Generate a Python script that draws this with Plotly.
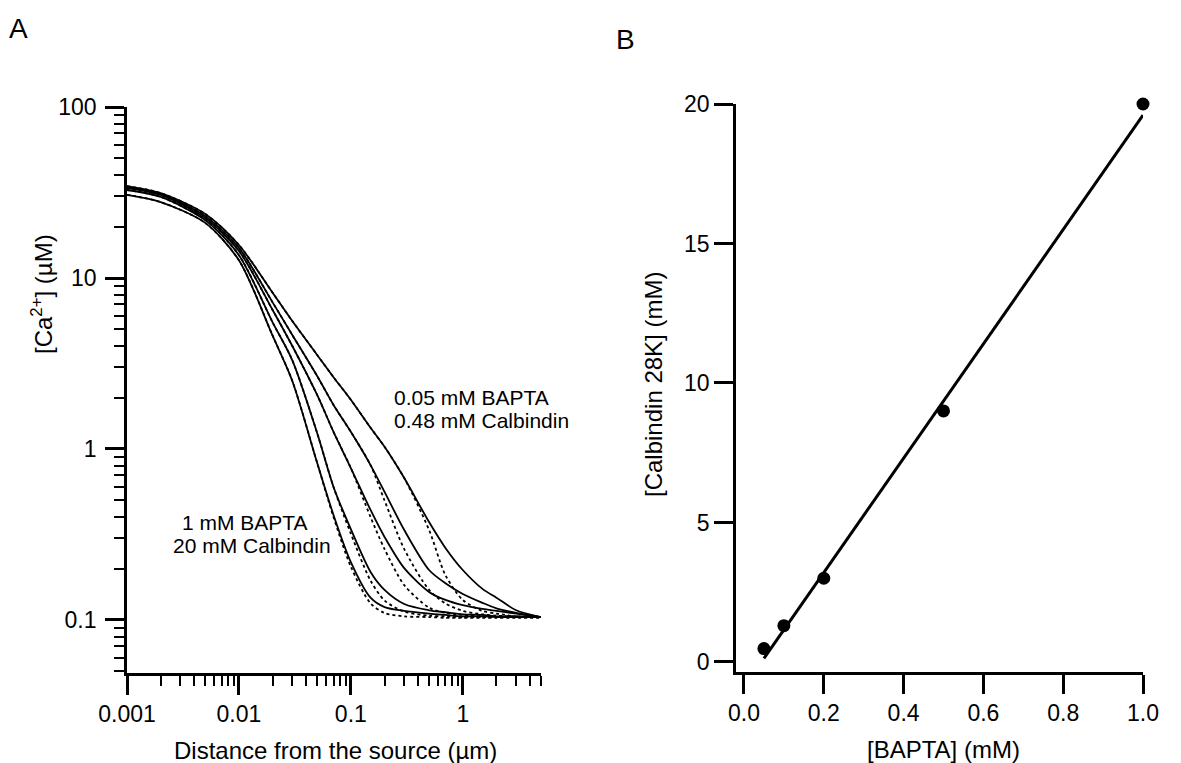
import plotly.graph_objects as go

# ---------------- Panel A data ----------------
dist_um = [0.001, 0.002, 0.005, 0.01, 0.02, 0.03, 0.05, 0.07, 0.1, 0.15, 0.2,
           0.3, 0.5, 0.7, 1, 1.5, 2, 3, 5]

# solid lines: BAPTA
ca_bapta_005 = [34.5, 31.4, 23.7, 15.6, 8.2, 5.6, 3.55, 2.63, 1.94, 1.33, 1.03,
                0.676, 0.374, 0.264, 0.196, 0.152, 0.135, 0.114, 0.104]
ca_bapta_01 = [34.0, 31.0, 23.0, 15.0, 7.2, 4.64, 2.67, 1.81, 1.26, 0.805, 0.561,
               0.336, 0.196, 0.164, 0.142, 0.126, 0.117, 0.110, 0.104]
ca_bapta_02 = [33.6, 30.6, 22.4, 14.4, 6.5, 4.0, 2.07, 1.26, 0.774, 0.440, 0.306,
               0.201, 0.146, 0.131, 0.122, 0.116, 0.113, 0.109, 0.104]
ca_bapta_05 = [32.7, 29.8, 21.8, 13.6, 5.5, 3.3, 1.24, 0.6, 0.34, 0.191, 0.150,
               0.124, 0.114, 0.111, 0.108, 0.107, 0.105, 0.105, 0.104]
ca_bapta_1 = [30.6, 27.8, 21.0, 12.7, 4.6, 2.5, 0.83, 0.411, 0.218, 0.135, 0.119,
              0.113, 0.109, 0.107, 0.105, 0.105, 0.104, 0.104, 0.104]

# dotted lines: calbindin
ca_calb_048 = [34.5, 31.4, 23.7, 15.6, 8.2, 5.6, 3.55, 2.63, 1.94, 1.33, 1.03,
               0.676, 0.336, 0.183, 0.131, 0.113, 0.109, 0.105, 0.104]
ca_calb_13 = [34.0, 31.0, 23.0, 15.0, 7.2, 4.64, 2.67, 1.81, 1.26, 0.805, 0.50,
              0.26, 0.15, 0.125, 0.113, 0.108, 0.106, 0.105, 0.104]
ca_calb_3 = [33.6, 30.6, 22.4, 14.4, 6.5, 4.0, 2.07, 1.26, 0.774, 0.40, 0.26,
             0.16, 0.118, 0.11, 0.107, 0.105, 0.104, 0.104, 0.104]
ca_calb_9 = [32.7, 29.8, 21.8, 13.6, 5.5, 3.3, 1.24, 0.6, 0.32, 0.17, 0.13,
             0.112, 0.106, 0.105, 0.104, 0.104, 0.104, 0.104, 0.104]
ca_calb_20 = [30.6, 27.8, 21.0, 12.7, 4.6, 2.5, 0.83, 0.40, 0.205, 0.125, 0.11,
              0.105, 0.104, 0.103, 0.103, 0.103, 0.103, 0.103, 0.103]

solid_series = [ca_bapta_005, ca_bapta_01, ca_bapta_02, ca_bapta_05, ca_bapta_1]
dotted_series = [ca_calb_048, ca_calb_13, ca_calb_3, ca_calb_9, ca_calb_20]

# ---------------- Panel B data ----------------
bapta_mM = [0.05, 0.1, 0.2, 0.5, 1.0]
calbindin_mM = [0.48, 1.3, 3.0, 9.0, 20.0]
fit_x = [0.05, 1.0]
fit_y = [0.13, 19.6]

W, H = 1181, 763
FONT = "Liberation Sans, Arial, Helvetica, sans-serif"


def px(x):
    return x / W


def py(y):
    return 1 - y / H


fig = go.Figure()

for ys in dotted_series:
    fig.add_trace(go.Scatter(x=dist_um, y=ys, mode="lines", xaxis="x", yaxis="y",
                             line=dict(color="black", width=1.8, dash="dot", shape="spline", smoothing=0.8),
                             showlegend=False, hoverinfo="skip"))
for ys in solid_series:
    fig.add_trace(go.Scatter(x=dist_um, y=ys, mode="lines", xaxis="x", yaxis="y",
                             line=dict(color="black", width=1.8, shape="spline", smoothing=0.8),
                             showlegend=False, hoverinfo="skip"))

fig.add_trace(go.Scatter(x=fit_x, y=fit_y, mode="lines", xaxis="x2", yaxis="y2",
                         line=dict(color="black", width=3), showlegend=False))
fig.add_trace(go.Scatter(x=bapta_mM, y=calbindin_mM, mode="markers", xaxis="x2", yaxis="y2",
                         marker=dict(color="black", size=13), showlegend=False, cliponaxis=False))

axis_common = dict(showline=True, linecolor="black", linewidth=2.7, ticks="outside",
                   tickcolor="black", tickwidth=2.7, ticklen=19, showgrid=False,
                   zeroline=False, mirror=False, automargin=False,
                   tickfont=dict(family=FONT, size=23, color="black"))

fig.update_layout(
    width=W, height=H,
    margin=dict(l=0, r=0, t=0, b=0),
    paper_bgcolor="white", plot_bgcolor="white",
    font=dict(family=FONT, size=23, color="black"),
    xaxis=dict(axis_common, type="log", domain=[px(127), px(541)], anchor="y",
               range=[-3, 0.699], tickvals=[0.001, 0.01, 0.1, 1],
               ticktext=["0.001", "0.01", "0.1", "1"],
               minor=dict(ticks="outside", ticklen=10, tickwidth=2.2, tickcolor="black",
                          dtick="D1", showgrid=False)),
    yaxis=dict(axis_common, type="log", domain=[py(673), py(107)], anchor="x",
               range=[-1.31, 2.0], tickvals=[0.1, 1, 10, 100],
               ticktext=["0.1", "1", "10", "100"], ticklabelstandoff=4,
               minor=dict(ticks="outside", ticklen=10, tickwidth=2.2, tickcolor="black",
                          dtick="D1", showgrid=False)),
    xaxis2=dict(axis_common, domain=[px(736), px(1143)], anchor="y2",
                range=[-0.02, 1.0], tickvals=[0, 0.2, 0.4, 0.6, 0.8, 1.0],
                ticktext=["0.0", "0.2", "0.4", "0.6", "0.8", "1.0"]),
    yaxis2=dict(axis_common, domain=[py(672), py(104)], anchor="x2",
                range=[-0.36, 20], tickvals=[0, 5, 10, 15, 20]),
)

annots = [
    dict(x=px(19), y=py(28), text="A", size=28, xanchor="center"),
    dict(x=px(625), y=py(40), text="B", size=28, xanchor="center"),
    dict(x=px(335), y=py(750), text="Distance from the source (µm)", size=24, xanchor="center"),
    dict(x=px(943), y=py(749), text="[BAPTA] (mM)", size=24, xanchor="center"),
    dict(x=px(392), y=py(397), text="0.05 mM BAPTA", size=21, xanchor="left"),
    dict(x=px(392), y=py(420), text="0.48 mM Calbindin", size=21, xanchor="left"),
    dict(x=px(245), y=py(522), text="1 mM BAPTA", size=21, xanchor="center"),
    dict(x=px(252), y=py(545), text="20 mM Calbindin", size=21, xanchor="center"),
]
for a in annots:
    fig.add_annotation(x=a["x"], y=a["y"], xref="paper", yref="paper", text=a["text"],
                       showarrow=False, xanchor=a["xanchor"], yanchor="middle",
                       font=dict(family=FONT, size=a["size"], color="black"))

fig.add_annotation(x=px(42), y=py(294), xref="paper", yref="paper",
                   text="[Ca<sup>2+</sup>] (µM)", showarrow=False, textangle=-90,
                   xanchor="center", yanchor="middle",
                   font=dict(family=FONT, size=24, color="black"))
fig.add_annotation(x=px(653), y=py(385), xref="paper", yref="paper",
                   text="[Calbindin 28K] (mM)", showarrow=False, textangle=-90,
                   xanchor="center", yanchor="middle",
                   font=dict(family=FONT, size=24, color="black"))

fig.write_html("out.html", post_script="document.body.style.margin='0';",
               config={"displayModeBar": False})
